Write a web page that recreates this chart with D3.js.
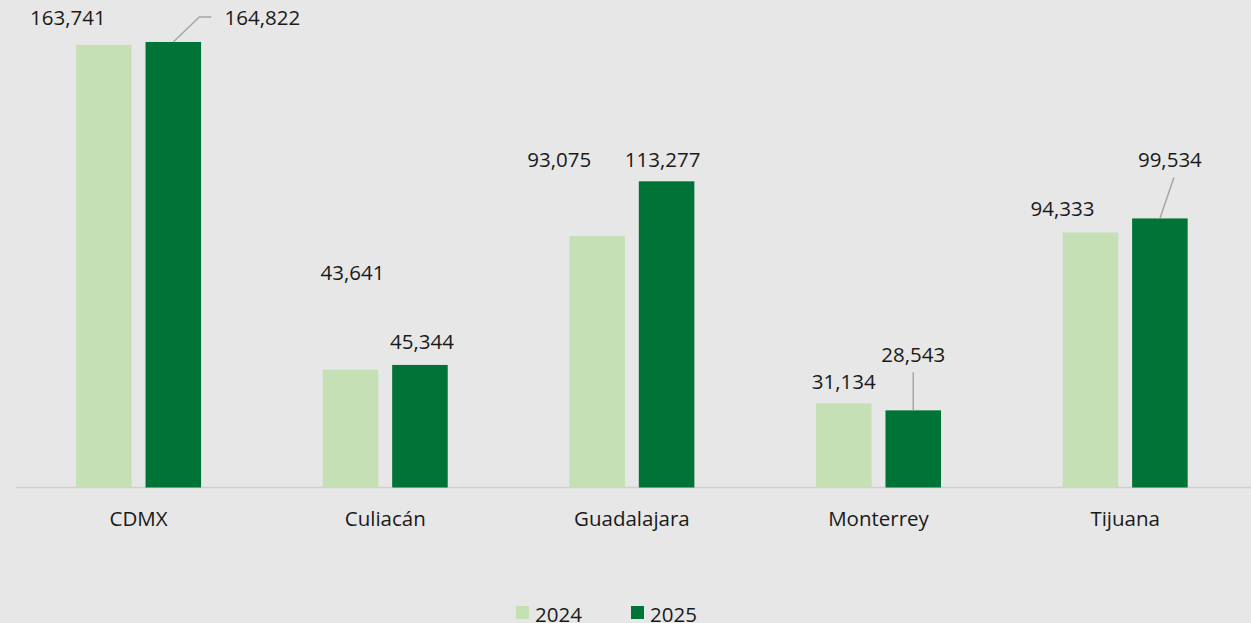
<!DOCTYPE html>
<html>
<head>
<meta charset="utf-8">
<script src="https://cdn.jsdelivr.net/npm/d3@7"></script>
<style>
  html, body { margin: 0; padding: 0; background: #e7e7e7; }
  svg { display: block; font-family: "Open Sans", Lato, sans-serif; }
</style>
</head>
<body>
<svg></svg>
<script>
// data
const cities = ["CDMX", "Culiacán", "Guadalajara", "Monterrey", "Tijuana"];
const years = ["2024", "2025"];
const values2024 = [163741, 43641, 93075, 31134, 94333];
const values2025 = [164822, 45344, 113277, 28543, 99534];

// label nudges (dx, dy from the bar top) - labels were dragged around in the original
const nudge2024 = [[-36, -20], [2, -90], [-38, -69], [0, -14], [-28, -17]];
const nudge2025 = [[89, -17], [2, -16], [-4, -14], [0, -48], [10, -51]];

const width = 1251, height = 623;
const colors = { "2024": "#c5e0b4", "2025": "#007436" };
const fontSize = 20.5;

const svg = d3.select("svg").attr("width", width).attr("height", height);

const x0 = d3.scaleBand().domain(cities).range([15.25, 1248.5]);
const x1 = d3.scaleBand().domain(years).range([0, 125]).paddingInner(0.2);
const groupOffset = (x0.bandwidth() - 125) / 2;
const y = d3.scaleLinear().domain([0, 180000]).range([487.5, 0.95]);

const fmt = d3.format(",");

const rows = cities.map((c, i) => ({
  city: c,
  bars: [
    { year: "2024", value: values2024[i], nudge: nudge2024[i] },
    { year: "2025", value: values2025[i], nudge: nudge2025[i] }
  ]
}));

// axis
const axis = svg.append("g")
  .attr("transform", `translate(0,${y(0)})`)
  .call(d3.axisBottom(x0).tickSize(0).tickPadding(24));
axis.select(".domain").attr("stroke", "#cfcfcf").attr("stroke-width", 1.5)
  .attr("d", `M16,0H${width}`);
axis.selectAll("text")
  .attr("font-size", fontSize)
  .attr("font-family", "'Open Sans', Lato, sans-serif")
  .attr("fill", "#1a1a1a");

const groups = svg.selectAll(".city")
  .data(rows)
  .join("g")
  .attr("class", "city")
  .attr("transform", d => `translate(${x0(d.city) + groupOffset},0)`);

groups.selectAll("rect")
  .data(d => d.bars)
  .join("rect")
  .attr("x", d => x1(d.year))
  .attr("y", d => y(d.value))
  .attr("width", x1.bandwidth())
  .attr("height", d => y(0) - y(d.value))
  .attr("fill", d => colors[d.year]);

// leader lines, only for the 2025 labels that were pulled away
groups.each(function (d) {
  const g = d3.select(this);
  const b = d.bars[1];
  const cx = x1(b.year) + x1.bandwidth() / 2;
  const top = y(b.value);
  const lx = cx + b.nudge[0];
  const ly = top + b.nudge[1];
  let pts = null;
  if (Math.abs(b.nudge[0]) > 60) {
    pts = [[cx, top], [lx - 63, ly - 8], [lx - 51, ly - 8]];
  } else if (Math.abs(b.nudge[1]) > 30) {
    pts = [[cx, top], [b.nudge[0] === 0 ? cx : lx + 4, ly + 10]];
  }
  if (pts) {
    g.append("path")
      .attr("d", d3.line()(pts))
      .attr("fill", "none")
      .attr("stroke", "#a6a6a6")
      .attr("stroke-width", 1.5);
  }
});

groups.selectAll("text.val")
  .data(d => d.bars)
  .join("text")
  .attr("class", "val")
  .attr("x", d => x1(d.year) + x1.bandwidth() / 2 + d.nudge[0])
  .attr("y", d => y(d.value) + d.nudge[1])
  .attr("text-anchor", "middle")
  .attr("font-size", fontSize)
  .attr("fill", "#1a1a1a")
  .text(d => fmt(d.value));

// legend
const legend = svg.append("g").attr("transform", "translate(516,606)");
const li = legend.selectAll("g")
  .data(years)
  .join("g")
  .attr("transform", (d, i) => `translate(${i * 115},0)`);
li.append("rect").attr("width", 13).attr("height", 13).attr("fill", d => colors[d]);
li.append("text")
  .attr("x", 19)
  .attr("y", 16)
  .attr("font-size", fontSize)
  .attr("fill", "#1a1a1a")
  .text(d => d);
</script>
</body>
</html>
